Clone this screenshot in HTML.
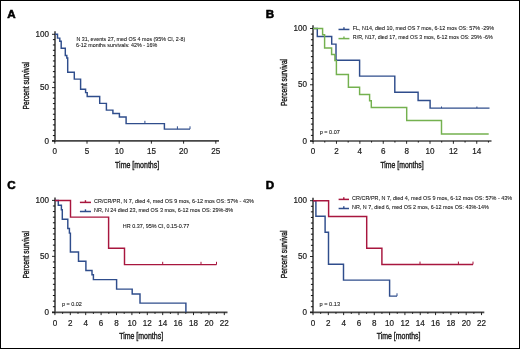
<!DOCTYPE html>
<html><head><meta charset="utf-8"><style>
html,body{margin:0;padding:0;background:#fff;}
body{width:520px;height:349px;overflow:hidden;}
svg{display:block;font-family:"Liberation Sans", sans-serif;will-change:transform;}
</style></head><body>
<svg width="520" height="349" viewBox="0 0 520 349">
<rect x="0" y="0" width="520" height="349" fill="#fff"/>
<text x="7.2" y="17.9" font-size="11.6" font-weight="bold" fill="#000" stroke="#000" stroke-width="0.55">A</text>
<line x1="55.0" y1="31.2" x2="55.0" y2="141.8" stroke="#474747" stroke-width="1.65"/>
<line x1="52.0" y1="140.9" x2="219.0" y2="140.9" stroke="#474747" stroke-width="1.7"/>
<line x1="52.0" y1="140.90" x2="55.0" y2="140.90" stroke="#111" stroke-width="0.9"/>
<text transform="translate(48.9,143.50) scale(0.93,1)" font-size="8.7" text-anchor="end" fill="#1a1a1a" stroke="#1a1a1a" stroke-width="0.2">0</text>
<line x1="52.9" y1="135.57" x2="55.0" y2="135.57" stroke="#111" stroke-width="1"/>
<line x1="52.9" y1="130.24" x2="55.0" y2="130.24" stroke="#111" stroke-width="1"/>
<line x1="52.9" y1="124.91" x2="55.0" y2="124.91" stroke="#111" stroke-width="1"/>
<line x1="52.9" y1="119.58" x2="55.0" y2="119.58" stroke="#111" stroke-width="1"/>
<line x1="52.9" y1="114.25" x2="55.0" y2="114.25" stroke="#111" stroke-width="1"/>
<line x1="52.9" y1="108.92" x2="55.0" y2="108.92" stroke="#111" stroke-width="1"/>
<line x1="52.9" y1="103.59" x2="55.0" y2="103.59" stroke="#111" stroke-width="1"/>
<line x1="52.9" y1="98.26" x2="55.0" y2="98.26" stroke="#111" stroke-width="1"/>
<line x1="52.9" y1="92.93" x2="55.0" y2="92.93" stroke="#111" stroke-width="1"/>
<line x1="52.0" y1="87.60" x2="55.0" y2="87.60" stroke="#111" stroke-width="0.9"/>
<text transform="translate(48.9,90.20) scale(0.93,1)" font-size="8.7" text-anchor="end" fill="#1a1a1a" stroke="#1a1a1a" stroke-width="0.2">50</text>
<line x1="52.9" y1="82.27" x2="55.0" y2="82.27" stroke="#111" stroke-width="1"/>
<line x1="52.9" y1="76.94" x2="55.0" y2="76.94" stroke="#111" stroke-width="1"/>
<line x1="52.9" y1="71.61" x2="55.0" y2="71.61" stroke="#111" stroke-width="1"/>
<line x1="52.9" y1="66.28" x2="55.0" y2="66.28" stroke="#111" stroke-width="1"/>
<line x1="52.9" y1="60.95" x2="55.0" y2="60.95" stroke="#111" stroke-width="1"/>
<line x1="52.9" y1="55.62" x2="55.0" y2="55.62" stroke="#111" stroke-width="1"/>
<line x1="52.9" y1="50.29" x2="55.0" y2="50.29" stroke="#111" stroke-width="1"/>
<line x1="52.9" y1="44.96" x2="55.0" y2="44.96" stroke="#111" stroke-width="1"/>
<line x1="52.9" y1="39.63" x2="55.0" y2="39.63" stroke="#111" stroke-width="1"/>
<line x1="52.0" y1="34.30" x2="55.0" y2="34.30" stroke="#111" stroke-width="0.9"/>
<text transform="translate(48.9,36.90) scale(0.93,1)" font-size="8.7" text-anchor="end" fill="#1a1a1a" stroke="#1a1a1a" stroke-width="0.2">100</text>
<line x1="54.80" y1="140.9" x2="54.80" y2="143.70000000000002" stroke="#111" stroke-width="0.9"/>
<text transform="translate(54.80,154.30) scale(0.93,1)" font-size="8.7" text-anchor="middle" fill="#1a1a1a" stroke="#1a1a1a" stroke-width="0.2">0</text>
<line x1="87.00" y1="140.9" x2="87.00" y2="143.70000000000002" stroke="#111" stroke-width="0.9"/>
<text transform="translate(87.00,154.30) scale(0.93,1)" font-size="8.7" text-anchor="middle" fill="#1a1a1a" stroke="#1a1a1a" stroke-width="0.2">5</text>
<line x1="119.20" y1="140.9" x2="119.20" y2="143.70000000000002" stroke="#111" stroke-width="0.9"/>
<text transform="translate(119.20,154.30) scale(0.93,1)" font-size="8.7" text-anchor="middle" fill="#1a1a1a" stroke="#1a1a1a" stroke-width="0.2">10</text>
<line x1="151.40" y1="140.9" x2="151.40" y2="143.70000000000002" stroke="#111" stroke-width="0.9"/>
<text transform="translate(151.40,154.30) scale(0.93,1)" font-size="8.7" text-anchor="middle" fill="#1a1a1a" stroke="#1a1a1a" stroke-width="0.2">15</text>
<line x1="183.60" y1="140.9" x2="183.60" y2="143.70000000000002" stroke="#111" stroke-width="0.9"/>
<text transform="translate(183.60,154.30) scale(0.93,1)" font-size="8.7" text-anchor="middle" fill="#1a1a1a" stroke="#1a1a1a" stroke-width="0.2">20</text>
<line x1="215.80" y1="140.9" x2="215.80" y2="143.70000000000002" stroke="#111" stroke-width="0.9"/>
<text transform="translate(215.80,154.30) scale(0.93,1)" font-size="8.7" text-anchor="middle" fill="#1a1a1a" stroke="#1a1a1a" stroke-width="0.2">25</text>
<text x="115.1" y="167.5" font-size="9.3" fill="#1a1a1a" stroke="#1a1a1a" stroke-width="0.4" textLength="44.1" lengthAdjust="spacingAndGlyphs">Time [months]</text>
<text transform="translate(28.6,109.5) rotate(-90)" x="0" y="0" font-size="9.8" fill="#1a1a1a" stroke="#1a1a1a" stroke-width="0.42" textLength="47.6" lengthAdjust="spacingAndGlyphs">Percent survival</text>
<text x="76.4" y="40.7" font-size="5.9" fill="#1a1a1a" stroke="#1a1a1a" stroke-width="0.1" textLength="108.8" lengthAdjust="spacingAndGlyphs">N 31, events 27, med OS 4 mos (95% CI, 2-8)</text>
<text x="76.0" y="46.8" font-size="5.9" fill="#1a1a1a" stroke="#1a1a1a" stroke-width="0.1" textLength="81.3" lengthAdjust="spacingAndGlyphs">6-12 months survivals: 42% - 16%</text>
<path d="M55,34.3H57.5V38.1H59.8V41.3H61.2V48.2H65.3V55.4H66.8V58.0H67.7V72.2H74.3V79.1H80.6V89.3H85.6V92.6H87.2V96.4H99.7V103.35H106.4V110.1H112.9V113.5H119.4V116.9H126.1V123.6H164.4V129.1H190.0" fill="none" stroke="#2f4d8c" stroke-width="1.45" stroke-linejoin="miter" stroke-linecap="butt"/>
<line x1="144.9" y1="123.6" x2="144.9" y2="120.8" stroke="#2f4d8c" stroke-width="1"/>
<line x1="177.4" y1="129.1" x2="177.4" y2="126.3" stroke="#2f4d8c" stroke-width="1"/>
<line x1="190.0" y1="129.1" x2="190.0" y2="126.3" stroke="#2f4d8c" stroke-width="1"/>
<text x="265.8" y="17.7" font-size="11.6" font-weight="bold" fill="#000" stroke="#000" stroke-width="0.55">B</text>
<line x1="313.0" y1="25.2" x2="313.0" y2="141.9" stroke="#474747" stroke-width="1.65"/>
<line x1="310.0" y1="141.0" x2="491.5" y2="141.0" stroke="#474747" stroke-width="1.7"/>
<line x1="310.0" y1="141.00" x2="313.0" y2="141.00" stroke="#111" stroke-width="0.9"/>
<text transform="translate(307.0,143.60) scale(0.93,1)" font-size="8.7" text-anchor="end" fill="#1a1a1a" stroke="#1a1a1a" stroke-width="0.2">0</text>
<line x1="310.9" y1="135.38" x2="313.0" y2="135.38" stroke="#111" stroke-width="1"/>
<line x1="310.9" y1="129.75" x2="313.0" y2="129.75" stroke="#111" stroke-width="1"/>
<line x1="310.9" y1="124.12" x2="313.0" y2="124.12" stroke="#111" stroke-width="1"/>
<line x1="310.9" y1="118.50" x2="313.0" y2="118.50" stroke="#111" stroke-width="1"/>
<line x1="310.9" y1="112.88" x2="313.0" y2="112.88" stroke="#111" stroke-width="1"/>
<line x1="310.9" y1="107.25" x2="313.0" y2="107.25" stroke="#111" stroke-width="1"/>
<line x1="310.9" y1="101.62" x2="313.0" y2="101.62" stroke="#111" stroke-width="1"/>
<line x1="310.9" y1="96.00" x2="313.0" y2="96.00" stroke="#111" stroke-width="1"/>
<line x1="310.9" y1="90.38" x2="313.0" y2="90.38" stroke="#111" stroke-width="1"/>
<line x1="310.0" y1="84.75" x2="313.0" y2="84.75" stroke="#111" stroke-width="0.9"/>
<text transform="translate(307.0,87.35) scale(0.93,1)" font-size="8.7" text-anchor="end" fill="#1a1a1a" stroke="#1a1a1a" stroke-width="0.2">50</text>
<line x1="310.9" y1="79.12" x2="313.0" y2="79.12" stroke="#111" stroke-width="1"/>
<line x1="310.9" y1="73.50" x2="313.0" y2="73.50" stroke="#111" stroke-width="1"/>
<line x1="310.9" y1="67.88" x2="313.0" y2="67.88" stroke="#111" stroke-width="1"/>
<line x1="310.9" y1="62.25" x2="313.0" y2="62.25" stroke="#111" stroke-width="1"/>
<line x1="310.9" y1="56.62" x2="313.0" y2="56.62" stroke="#111" stroke-width="1"/>
<line x1="310.9" y1="51.00" x2="313.0" y2="51.00" stroke="#111" stroke-width="1"/>
<line x1="310.9" y1="45.38" x2="313.0" y2="45.38" stroke="#111" stroke-width="1"/>
<line x1="310.9" y1="39.75" x2="313.0" y2="39.75" stroke="#111" stroke-width="1"/>
<line x1="310.9" y1="34.12" x2="313.0" y2="34.12" stroke="#111" stroke-width="1"/>
<line x1="310.0" y1="28.50" x2="313.0" y2="28.50" stroke="#111" stroke-width="0.9"/>
<text transform="translate(307.0,31.10) scale(0.93,1)" font-size="8.7" text-anchor="end" fill="#1a1a1a" stroke="#1a1a1a" stroke-width="0.2">100</text>
<line x1="313.10" y1="141.0" x2="313.10" y2="143.8" stroke="#111" stroke-width="0.9"/>
<text transform="translate(313.10,154.30) scale(0.93,1)" font-size="8.7" text-anchor="middle" fill="#1a1a1a" stroke="#1a1a1a" stroke-width="0.2">0</text>
<line x1="336.48" y1="141.0" x2="336.48" y2="143.8" stroke="#111" stroke-width="0.9"/>
<text transform="translate(336.48,154.30) scale(0.93,1)" font-size="8.7" text-anchor="middle" fill="#1a1a1a" stroke="#1a1a1a" stroke-width="0.2">2</text>
<line x1="359.86" y1="141.0" x2="359.86" y2="143.8" stroke="#111" stroke-width="0.9"/>
<text transform="translate(359.86,154.30) scale(0.93,1)" font-size="8.7" text-anchor="middle" fill="#1a1a1a" stroke="#1a1a1a" stroke-width="0.2">4</text>
<line x1="383.24" y1="141.0" x2="383.24" y2="143.8" stroke="#111" stroke-width="0.9"/>
<text transform="translate(383.24,154.30) scale(0.93,1)" font-size="8.7" text-anchor="middle" fill="#1a1a1a" stroke="#1a1a1a" stroke-width="0.2">6</text>
<line x1="406.62" y1="141.0" x2="406.62" y2="143.8" stroke="#111" stroke-width="0.9"/>
<text transform="translate(406.62,154.30) scale(0.93,1)" font-size="8.7" text-anchor="middle" fill="#1a1a1a" stroke="#1a1a1a" stroke-width="0.2">8</text>
<line x1="430.00" y1="141.0" x2="430.00" y2="143.8" stroke="#111" stroke-width="0.9"/>
<text transform="translate(430.00,154.30) scale(0.93,1)" font-size="8.7" text-anchor="middle" fill="#1a1a1a" stroke="#1a1a1a" stroke-width="0.2">10</text>
<line x1="453.38" y1="141.0" x2="453.38" y2="143.8" stroke="#111" stroke-width="0.9"/>
<text transform="translate(453.38,154.30) scale(0.93,1)" font-size="8.7" text-anchor="middle" fill="#1a1a1a" stroke="#1a1a1a" stroke-width="0.2">12</text>
<line x1="476.76" y1="141.0" x2="476.76" y2="143.8" stroke="#111" stroke-width="0.9"/>
<text transform="translate(476.76,154.30) scale(0.93,1)" font-size="8.7" text-anchor="middle" fill="#1a1a1a" stroke="#1a1a1a" stroke-width="0.2">14</text>
<line x1="324.79" y1="141.0" x2="324.79" y2="142.6" stroke="#111" stroke-width="0.9"/>
<line x1="348.17" y1="141.0" x2="348.17" y2="142.6" stroke="#111" stroke-width="0.9"/>
<line x1="371.55" y1="141.0" x2="371.55" y2="142.6" stroke="#111" stroke-width="0.9"/>
<line x1="394.93" y1="141.0" x2="394.93" y2="142.6" stroke="#111" stroke-width="0.9"/>
<line x1="418.31" y1="141.0" x2="418.31" y2="142.6" stroke="#111" stroke-width="0.9"/>
<line x1="441.69" y1="141.0" x2="441.69" y2="142.6" stroke="#111" stroke-width="0.9"/>
<line x1="465.07" y1="141.0" x2="465.07" y2="142.6" stroke="#111" stroke-width="0.9"/>
<line x1="488.45" y1="141.0" x2="488.45" y2="142.6" stroke="#111" stroke-width="0.9"/>
<text x="380.4" y="167.6" font-size="9.3" fill="#1a1a1a" stroke="#1a1a1a" stroke-width="0.4" textLength="43.3" lengthAdjust="spacingAndGlyphs">Time [months]</text>
<text transform="translate(286.85,106.1) rotate(-90)" x="0" y="0" font-size="9.8" fill="#1a1a1a" stroke="#1a1a1a" stroke-width="0.42" textLength="47.2" lengthAdjust="spacingAndGlyphs">Percent survival</text>
<line x1="338.5" y1="29.45" x2="349.4" y2="29.45" stroke="#2f4d8c" stroke-width="1.5"/>
<line x1="343.95" y1="29.45" x2="343.95" y2="27.25" stroke="#2f4d8c" stroke-width="1.4"/>
<line x1="338.5" y1="38.6" x2="349.4" y2="38.6" stroke="#74b14f" stroke-width="1.5"/>
<line x1="343.95" y1="38.6" x2="343.95" y2="36.4" stroke="#74b14f" stroke-width="1.4"/>
<text x="352.8" y="29.6" font-size="5.9" fill="#1a1a1a" stroke="#1a1a1a" stroke-width="0.1" textLength="141.2" lengthAdjust="spacingAndGlyphs">FL, N14, died 10, med OS 7 mos, 6-12 mos OS: 57% -29%</text>
<text x="352.8" y="38.7" font-size="5.9" fill="#1a1a1a" stroke="#1a1a1a" stroke-width="0.1" textLength="139.9" lengthAdjust="spacingAndGlyphs">R/R, N17, died 17, med OS 3 mos, 6-12 mos OS: 29% -6%</text>
<text x="319.8" y="133.8" font-size="5.9" fill="#1a1a1a" stroke="#1a1a1a" stroke-width="0.1" textLength="20" lengthAdjust="spacingAndGlyphs">p = 0.07</text>
<path d="M313,28.5H317.3V36.4H331.7V44.1H336.0V60.3H359.6V76.1H394.8V92.2H418.1V100.5H430.1V108.1H489.5" fill="none" stroke="#2f4d8c" stroke-width="1.45" stroke-linejoin="miter" stroke-linecap="butt"/>
<line x1="441.5" y1="108.1" x2="441.5" y2="106.5" stroke="#2f4d8c" stroke-width="1"/>
<line x1="476.9" y1="108.1" x2="476.9" y2="106.5" stroke="#2f4d8c" stroke-width="1"/>
<path d="M313,28.5H322.6V34.8H324.6V48.0H331.6V54.5H334.9V60.6H336.4V74.5H348.4V87.3H359.6V94.4H369.6V100.7H371.3V107.5H406.7V120.5H441.5V133.9H488.7" fill="none" stroke="#74b14f" stroke-width="1.45" stroke-linejoin="miter" stroke-linecap="butt"/>
<text x="7.2" y="189.3" font-size="11.6" font-weight="bold" fill="#000" stroke="#000" stroke-width="0.55">C</text>
<line x1="55.0" y1="197.4" x2="55.0" y2="313.2" stroke="#474747" stroke-width="1.65"/>
<line x1="52.0" y1="312.3" x2="227.5" y2="312.3" stroke="#474747" stroke-width="1.7"/>
<line x1="52.0" y1="312.30" x2="55.0" y2="312.30" stroke="#111" stroke-width="0.9"/>
<text transform="translate(48.9,314.90) scale(0.93,1)" font-size="8.7" text-anchor="end" fill="#1a1a1a" stroke="#1a1a1a" stroke-width="0.2">0</text>
<line x1="52.9" y1="306.70" x2="55.0" y2="306.70" stroke="#111" stroke-width="1"/>
<line x1="52.9" y1="301.11" x2="55.0" y2="301.11" stroke="#111" stroke-width="1"/>
<line x1="52.9" y1="295.51" x2="55.0" y2="295.51" stroke="#111" stroke-width="1"/>
<line x1="52.9" y1="289.92" x2="55.0" y2="289.92" stroke="#111" stroke-width="1"/>
<line x1="52.9" y1="284.32" x2="55.0" y2="284.32" stroke="#111" stroke-width="1"/>
<line x1="52.9" y1="278.73" x2="55.0" y2="278.73" stroke="#111" stroke-width="1"/>
<line x1="52.9" y1="273.13" x2="55.0" y2="273.13" stroke="#111" stroke-width="1"/>
<line x1="52.9" y1="267.54" x2="55.0" y2="267.54" stroke="#111" stroke-width="1"/>
<line x1="52.9" y1="261.94" x2="55.0" y2="261.94" stroke="#111" stroke-width="1"/>
<line x1="52.0" y1="256.35" x2="55.0" y2="256.35" stroke="#111" stroke-width="0.9"/>
<text transform="translate(48.9,258.95) scale(0.93,1)" font-size="8.7" text-anchor="end" fill="#1a1a1a" stroke="#1a1a1a" stroke-width="0.2">50</text>
<line x1="52.9" y1="250.75" x2="55.0" y2="250.75" stroke="#111" stroke-width="1"/>
<line x1="52.9" y1="245.16" x2="55.0" y2="245.16" stroke="#111" stroke-width="1"/>
<line x1="52.9" y1="239.56" x2="55.0" y2="239.56" stroke="#111" stroke-width="1"/>
<line x1="52.9" y1="233.97" x2="55.0" y2="233.97" stroke="#111" stroke-width="1"/>
<line x1="52.9" y1="228.38" x2="55.0" y2="228.38" stroke="#111" stroke-width="1"/>
<line x1="52.9" y1="222.78" x2="55.0" y2="222.78" stroke="#111" stroke-width="1"/>
<line x1="52.9" y1="217.19" x2="55.0" y2="217.19" stroke="#111" stroke-width="1"/>
<line x1="52.9" y1="211.59" x2="55.0" y2="211.59" stroke="#111" stroke-width="1"/>
<line x1="52.9" y1="206.00" x2="55.0" y2="206.00" stroke="#111" stroke-width="1"/>
<line x1="52.0" y1="200.40" x2="55.0" y2="200.40" stroke="#111" stroke-width="0.9"/>
<text transform="translate(48.9,203.00) scale(0.93,1)" font-size="8.7" text-anchor="end" fill="#1a1a1a" stroke="#1a1a1a" stroke-width="0.2">100</text>
<line x1="54.90" y1="312.3" x2="54.90" y2="315.1" stroke="#111" stroke-width="0.9"/>
<text transform="translate(54.90,326.20) scale(0.93,1)" font-size="8.7" text-anchor="middle" fill="#1a1a1a" stroke="#1a1a1a" stroke-width="0.2">0</text>
<line x1="70.30" y1="312.3" x2="70.30" y2="315.1" stroke="#111" stroke-width="0.9"/>
<text transform="translate(70.30,326.20) scale(0.93,1)" font-size="8.7" text-anchor="middle" fill="#1a1a1a" stroke="#1a1a1a" stroke-width="0.2">2</text>
<line x1="85.70" y1="312.3" x2="85.70" y2="315.1" stroke="#111" stroke-width="0.9"/>
<text transform="translate(85.70,326.20) scale(0.93,1)" font-size="8.7" text-anchor="middle" fill="#1a1a1a" stroke="#1a1a1a" stroke-width="0.2">4</text>
<line x1="101.10" y1="312.3" x2="101.10" y2="315.1" stroke="#111" stroke-width="0.9"/>
<text transform="translate(101.10,326.20) scale(0.93,1)" font-size="8.7" text-anchor="middle" fill="#1a1a1a" stroke="#1a1a1a" stroke-width="0.2">6</text>
<line x1="116.50" y1="312.3" x2="116.50" y2="315.1" stroke="#111" stroke-width="0.9"/>
<text transform="translate(116.50,326.20) scale(0.93,1)" font-size="8.7" text-anchor="middle" fill="#1a1a1a" stroke="#1a1a1a" stroke-width="0.2">8</text>
<line x1="131.90" y1="312.3" x2="131.90" y2="315.1" stroke="#111" stroke-width="0.9"/>
<text transform="translate(131.90,326.20) scale(0.93,1)" font-size="8.7" text-anchor="middle" fill="#1a1a1a" stroke="#1a1a1a" stroke-width="0.2">10</text>
<line x1="147.30" y1="312.3" x2="147.30" y2="315.1" stroke="#111" stroke-width="0.9"/>
<text transform="translate(147.30,326.20) scale(0.93,1)" font-size="8.7" text-anchor="middle" fill="#1a1a1a" stroke="#1a1a1a" stroke-width="0.2">12</text>
<line x1="162.70" y1="312.3" x2="162.70" y2="315.1" stroke="#111" stroke-width="0.9"/>
<text transform="translate(162.70,326.20) scale(0.93,1)" font-size="8.7" text-anchor="middle" fill="#1a1a1a" stroke="#1a1a1a" stroke-width="0.2">14</text>
<line x1="178.10" y1="312.3" x2="178.10" y2="315.1" stroke="#111" stroke-width="0.9"/>
<text transform="translate(178.10,326.20) scale(0.93,1)" font-size="8.7" text-anchor="middle" fill="#1a1a1a" stroke="#1a1a1a" stroke-width="0.2">16</text>
<line x1="193.50" y1="312.3" x2="193.50" y2="315.1" stroke="#111" stroke-width="0.9"/>
<text transform="translate(193.50,326.20) scale(0.93,1)" font-size="8.7" text-anchor="middle" fill="#1a1a1a" stroke="#1a1a1a" stroke-width="0.2">18</text>
<line x1="208.90" y1="312.3" x2="208.90" y2="315.1" stroke="#111" stroke-width="0.9"/>
<text transform="translate(208.90,326.20) scale(0.93,1)" font-size="8.7" text-anchor="middle" fill="#1a1a1a" stroke="#1a1a1a" stroke-width="0.2">20</text>
<line x1="224.30" y1="312.3" x2="224.30" y2="315.1" stroke="#111" stroke-width="0.9"/>
<text transform="translate(224.30,326.20) scale(0.93,1)" font-size="8.7" text-anchor="middle" fill="#1a1a1a" stroke="#1a1a1a" stroke-width="0.2">22</text>
<line x1="62.60" y1="312.3" x2="62.60" y2="313.90000000000003" stroke="#111" stroke-width="0.9"/>
<line x1="78.00" y1="312.3" x2="78.00" y2="313.90000000000003" stroke="#111" stroke-width="0.9"/>
<line x1="93.40" y1="312.3" x2="93.40" y2="313.90000000000003" stroke="#111" stroke-width="0.9"/>
<line x1="108.80" y1="312.3" x2="108.80" y2="313.90000000000003" stroke="#111" stroke-width="0.9"/>
<line x1="124.20" y1="312.3" x2="124.20" y2="313.90000000000003" stroke="#111" stroke-width="0.9"/>
<line x1="139.60" y1="312.3" x2="139.60" y2="313.90000000000003" stroke="#111" stroke-width="0.9"/>
<line x1="155.00" y1="312.3" x2="155.00" y2="313.90000000000003" stroke="#111" stroke-width="0.9"/>
<line x1="170.40" y1="312.3" x2="170.40" y2="313.90000000000003" stroke="#111" stroke-width="0.9"/>
<line x1="185.80" y1="312.3" x2="185.80" y2="313.90000000000003" stroke="#111" stroke-width="0.9"/>
<line x1="201.20" y1="312.3" x2="201.20" y2="313.90000000000003" stroke="#111" stroke-width="0.9"/>
<line x1="216.60" y1="312.3" x2="216.60" y2="313.90000000000003" stroke="#111" stroke-width="0.9"/>
<text x="119.2" y="338.8" font-size="9.3" fill="#1a1a1a" stroke="#1a1a1a" stroke-width="0.4" textLength="43.9" lengthAdjust="spacingAndGlyphs">Time [months]</text>
<text transform="translate(28.6,278.6) rotate(-90)" x="0" y="0" font-size="9.8" fill="#1a1a1a" stroke="#1a1a1a" stroke-width="0.42" textLength="47.6" lengthAdjust="spacingAndGlyphs">Percent survival</text>
<line x1="79.9" y1="202.4" x2="91.0" y2="202.4" stroke="#a8163e" stroke-width="1.5"/>
<line x1="85.45" y1="202.4" x2="85.45" y2="200.20000000000002" stroke="#a8163e" stroke-width="1.4"/>
<line x1="79.9" y1="211.5" x2="91.0" y2="211.5" stroke="#2f4d8c" stroke-width="1.5"/>
<line x1="85.45" y1="211.5" x2="85.45" y2="209.3" stroke="#2f4d8c" stroke-width="1.4"/>
<text x="94.1" y="203.0" font-size="5.9" fill="#1a1a1a" stroke="#1a1a1a" stroke-width="0.1" textLength="159.7" lengthAdjust="spacingAndGlyphs">CR/CR/PR, N 7, died 4, med OS 9 mos, 6-12 mos OS: 57% - 43%</text>
<text x="94.1" y="212.0" font-size="5.9" fill="#1a1a1a" stroke="#1a1a1a" stroke-width="0.1" textLength="138.9" lengthAdjust="spacingAndGlyphs">NR, N 24 died 23, med OS 3 mos, 6-12 mos OS: 29%-8%</text>
<text x="122.8" y="228.1" font-size="5.9" fill="#1a1a1a" stroke="#1a1a1a" stroke-width="0.1" textLength="66.6" lengthAdjust="spacingAndGlyphs">HR 0.37, 95% CI, 0.15-0.77</text>
<text x="61.9" y="305.6" font-size="5.9" fill="#1a1a1a" stroke="#1a1a1a" stroke-width="0.1" textLength="20.0" lengthAdjust="spacingAndGlyphs">p = 0.02</text>
<path d="M55,200.4H58.3V205.2H61.4V209.8H62.3V219.3H67.8V228.4H69.4V233.1H70.4V251.9H78.5V261.3H85.9V270.4H92.0V274.8H93.4V279.6H116.6V289.1H132.2V293.9H140.0V303.1H185.9V312.3H185.9" fill="none" stroke="#2f4d8c" stroke-width="1.45" stroke-linejoin="miter" stroke-linecap="butt"/>
<path d="M55,200.4H70.5V217.1H108.6V248.3H124.5V264.6H216.5" fill="none" stroke="#a8163e" stroke-width="1.45" stroke-linejoin="miter" stroke-linecap="butt"/>
<line x1="162.7" y1="264.6" x2="162.7" y2="261.8" stroke="#a8163e" stroke-width="1"/>
<line x1="201.0" y1="264.6" x2="201.0" y2="261.8" stroke="#a8163e" stroke-width="1"/>
<line x1="216.5" y1="264.6" x2="216.5" y2="261.8" stroke="#a8163e" stroke-width="1"/>
<text x="265.8" y="189.1" font-size="11.6" font-weight="bold" fill="#000" stroke="#000" stroke-width="0.55">D</text>
<line x1="313.0" y1="197.7" x2="313.0" y2="313.2" stroke="#474747" stroke-width="1.65"/>
<line x1="310.0" y1="312.3" x2="484.3" y2="312.3" stroke="#474747" stroke-width="1.7"/>
<line x1="310.0" y1="312.30" x2="313.0" y2="312.30" stroke="#111" stroke-width="0.9"/>
<text transform="translate(307.0,314.90) scale(0.93,1)" font-size="8.7" text-anchor="end" fill="#1a1a1a" stroke="#1a1a1a" stroke-width="0.2">0</text>
<line x1="310.9" y1="306.72" x2="313.0" y2="306.72" stroke="#111" stroke-width="1"/>
<line x1="310.9" y1="301.14" x2="313.0" y2="301.14" stroke="#111" stroke-width="1"/>
<line x1="310.9" y1="295.56" x2="313.0" y2="295.56" stroke="#111" stroke-width="1"/>
<line x1="310.9" y1="289.98" x2="313.0" y2="289.98" stroke="#111" stroke-width="1"/>
<line x1="310.9" y1="284.40" x2="313.0" y2="284.40" stroke="#111" stroke-width="1"/>
<line x1="310.9" y1="278.82" x2="313.0" y2="278.82" stroke="#111" stroke-width="1"/>
<line x1="310.9" y1="273.24" x2="313.0" y2="273.24" stroke="#111" stroke-width="1"/>
<line x1="310.9" y1="267.66" x2="313.0" y2="267.66" stroke="#111" stroke-width="1"/>
<line x1="310.9" y1="262.08" x2="313.0" y2="262.08" stroke="#111" stroke-width="1"/>
<line x1="310.0" y1="256.50" x2="313.0" y2="256.50" stroke="#111" stroke-width="0.9"/>
<text transform="translate(307.0,259.10) scale(0.93,1)" font-size="8.7" text-anchor="end" fill="#1a1a1a" stroke="#1a1a1a" stroke-width="0.2">50</text>
<line x1="310.9" y1="250.92" x2="313.0" y2="250.92" stroke="#111" stroke-width="1"/>
<line x1="310.9" y1="245.34" x2="313.0" y2="245.34" stroke="#111" stroke-width="1"/>
<line x1="310.9" y1="239.76" x2="313.0" y2="239.76" stroke="#111" stroke-width="1"/>
<line x1="310.9" y1="234.18" x2="313.0" y2="234.18" stroke="#111" stroke-width="1"/>
<line x1="310.9" y1="228.60" x2="313.0" y2="228.60" stroke="#111" stroke-width="1"/>
<line x1="310.9" y1="223.02" x2="313.0" y2="223.02" stroke="#111" stroke-width="1"/>
<line x1="310.9" y1="217.44" x2="313.0" y2="217.44" stroke="#111" stroke-width="1"/>
<line x1="310.9" y1="211.86" x2="313.0" y2="211.86" stroke="#111" stroke-width="1"/>
<line x1="310.9" y1="206.28" x2="313.0" y2="206.28" stroke="#111" stroke-width="1"/>
<line x1="310.0" y1="200.70" x2="313.0" y2="200.70" stroke="#111" stroke-width="0.9"/>
<text transform="translate(307.0,203.30) scale(0.93,1)" font-size="8.7" text-anchor="end" fill="#1a1a1a" stroke="#1a1a1a" stroke-width="0.2">100</text>
<line x1="313.00" y1="312.3" x2="313.00" y2="315.1" stroke="#111" stroke-width="0.9"/>
<text transform="translate(313.00,326.20) scale(0.93,1)" font-size="8.7" text-anchor="middle" fill="#1a1a1a" stroke="#1a1a1a" stroke-width="0.2">0</text>
<line x1="328.32" y1="312.3" x2="328.32" y2="315.1" stroke="#111" stroke-width="0.9"/>
<text transform="translate(328.32,326.20) scale(0.93,1)" font-size="8.7" text-anchor="middle" fill="#1a1a1a" stroke="#1a1a1a" stroke-width="0.2">2</text>
<line x1="343.64" y1="312.3" x2="343.64" y2="315.1" stroke="#111" stroke-width="0.9"/>
<text transform="translate(343.64,326.20) scale(0.93,1)" font-size="8.7" text-anchor="middle" fill="#1a1a1a" stroke="#1a1a1a" stroke-width="0.2">4</text>
<line x1="358.96" y1="312.3" x2="358.96" y2="315.1" stroke="#111" stroke-width="0.9"/>
<text transform="translate(358.96,326.20) scale(0.93,1)" font-size="8.7" text-anchor="middle" fill="#1a1a1a" stroke="#1a1a1a" stroke-width="0.2">6</text>
<line x1="374.28" y1="312.3" x2="374.28" y2="315.1" stroke="#111" stroke-width="0.9"/>
<text transform="translate(374.28,326.20) scale(0.93,1)" font-size="8.7" text-anchor="middle" fill="#1a1a1a" stroke="#1a1a1a" stroke-width="0.2">8</text>
<line x1="389.60" y1="312.3" x2="389.60" y2="315.1" stroke="#111" stroke-width="0.9"/>
<text transform="translate(389.60,326.20) scale(0.93,1)" font-size="8.7" text-anchor="middle" fill="#1a1a1a" stroke="#1a1a1a" stroke-width="0.2">10</text>
<line x1="404.92" y1="312.3" x2="404.92" y2="315.1" stroke="#111" stroke-width="0.9"/>
<text transform="translate(404.92,326.20) scale(0.93,1)" font-size="8.7" text-anchor="middle" fill="#1a1a1a" stroke="#1a1a1a" stroke-width="0.2">12</text>
<line x1="420.24" y1="312.3" x2="420.24" y2="315.1" stroke="#111" stroke-width="0.9"/>
<text transform="translate(420.24,326.20) scale(0.93,1)" font-size="8.7" text-anchor="middle" fill="#1a1a1a" stroke="#1a1a1a" stroke-width="0.2">14</text>
<line x1="435.56" y1="312.3" x2="435.56" y2="315.1" stroke="#111" stroke-width="0.9"/>
<text transform="translate(435.56,326.20) scale(0.93,1)" font-size="8.7" text-anchor="middle" fill="#1a1a1a" stroke="#1a1a1a" stroke-width="0.2">16</text>
<line x1="450.88" y1="312.3" x2="450.88" y2="315.1" stroke="#111" stroke-width="0.9"/>
<text transform="translate(450.88,326.20) scale(0.93,1)" font-size="8.7" text-anchor="middle" fill="#1a1a1a" stroke="#1a1a1a" stroke-width="0.2">18</text>
<line x1="466.20" y1="312.3" x2="466.20" y2="315.1" stroke="#111" stroke-width="0.9"/>
<text transform="translate(466.20,326.20) scale(0.93,1)" font-size="8.7" text-anchor="middle" fill="#1a1a1a" stroke="#1a1a1a" stroke-width="0.2">20</text>
<line x1="481.52" y1="312.3" x2="481.52" y2="315.1" stroke="#111" stroke-width="0.9"/>
<text transform="translate(481.52,326.20) scale(0.93,1)" font-size="8.7" text-anchor="middle" fill="#1a1a1a" stroke="#1a1a1a" stroke-width="0.2">22</text>
<line x1="320.66" y1="312.3" x2="320.66" y2="313.90000000000003" stroke="#111" stroke-width="0.9"/>
<line x1="335.98" y1="312.3" x2="335.98" y2="313.90000000000003" stroke="#111" stroke-width="0.9"/>
<line x1="351.30" y1="312.3" x2="351.30" y2="313.90000000000003" stroke="#111" stroke-width="0.9"/>
<line x1="366.62" y1="312.3" x2="366.62" y2="313.90000000000003" stroke="#111" stroke-width="0.9"/>
<line x1="381.94" y1="312.3" x2="381.94" y2="313.90000000000003" stroke="#111" stroke-width="0.9"/>
<line x1="397.26" y1="312.3" x2="397.26" y2="313.90000000000003" stroke="#111" stroke-width="0.9"/>
<line x1="412.58" y1="312.3" x2="412.58" y2="313.90000000000003" stroke="#111" stroke-width="0.9"/>
<line x1="427.90" y1="312.3" x2="427.90" y2="313.90000000000003" stroke="#111" stroke-width="0.9"/>
<line x1="443.22" y1="312.3" x2="443.22" y2="313.90000000000003" stroke="#111" stroke-width="0.9"/>
<line x1="458.54" y1="312.3" x2="458.54" y2="313.90000000000003" stroke="#111" stroke-width="0.9"/>
<line x1="473.86" y1="312.3" x2="473.86" y2="313.90000000000003" stroke="#111" stroke-width="0.9"/>
<text x="376.7" y="338.8" font-size="9.3" fill="#1a1a1a" stroke="#1a1a1a" stroke-width="0.4" textLength="43.8" lengthAdjust="spacingAndGlyphs">Time [months]</text>
<text transform="translate(286.85,278.2) rotate(-90)" x="0" y="0" font-size="9.8" fill="#1a1a1a" stroke="#1a1a1a" stroke-width="0.42" textLength="47.8" lengthAdjust="spacingAndGlyphs">Percent survival</text>
<line x1="338.6" y1="199.4" x2="349.0" y2="199.4" stroke="#a8163e" stroke-width="1.5"/>
<line x1="343.8" y1="199.4" x2="343.8" y2="197.20000000000002" stroke="#a8163e" stroke-width="1.4"/>
<line x1="338.6" y1="208.5" x2="349.0" y2="208.5" stroke="#2f4d8c" stroke-width="1.5"/>
<line x1="343.8" y1="208.5" x2="343.8" y2="206.3" stroke="#2f4d8c" stroke-width="1.4"/>
<text x="352.1" y="199.9" font-size="5.9" fill="#1a1a1a" stroke="#1a1a1a" stroke-width="0.1" textLength="160.1" lengthAdjust="spacingAndGlyphs">CR/CR/PR, N 7, died 4, med OS 9 mos, 6-12 mos OS: 57% - 43%</text>
<text x="352.1" y="209.3" font-size="5.9" fill="#1a1a1a" stroke="#1a1a1a" stroke-width="0.1" textLength="136.7" lengthAdjust="spacingAndGlyphs">NR, N 7, died 6, med OS 2 mos, 6-12 mos OS: 43%-14%</text>
<text x="319.5" y="305.8" font-size="5.9" fill="#1a1a1a" stroke="#1a1a1a" stroke-width="0.1" textLength="20.6" lengthAdjust="spacingAndGlyphs">p = 0.13</text>
<path d="M313,200.7H315.9V216.3H325.1V232.3H328.5V264.3H343.5V280.1H389.6V296.1H397.0" fill="none" stroke="#2f4d8c" stroke-width="1.45" stroke-linejoin="miter" stroke-linecap="butt"/>
<line x1="397.0" y1="296.1" x2="397.0" y2="293.3" stroke="#2f4d8c" stroke-width="1"/>
<path d="M313,200.7H328.6V216.4H366.7V248.3H381.9V264.4H473.0" fill="none" stroke="#a8163e" stroke-width="1.45" stroke-linejoin="miter" stroke-linecap="butt"/>
<line x1="420.0" y1="264.4" x2="420.0" y2="261.59999999999997" stroke="#a8163e" stroke-width="1"/>
<line x1="458.4" y1="264.4" x2="458.4" y2="261.59999999999997" stroke="#a8163e" stroke-width="1"/>
<line x1="473.0" y1="264.4" x2="473.0" y2="261.59999999999997" stroke="#a8163e" stroke-width="1"/>
<rect x="0.5" y="0.5" width="519" height="348" fill="none" stroke="#000" stroke-width="1"/>
</svg>
</body></html>
